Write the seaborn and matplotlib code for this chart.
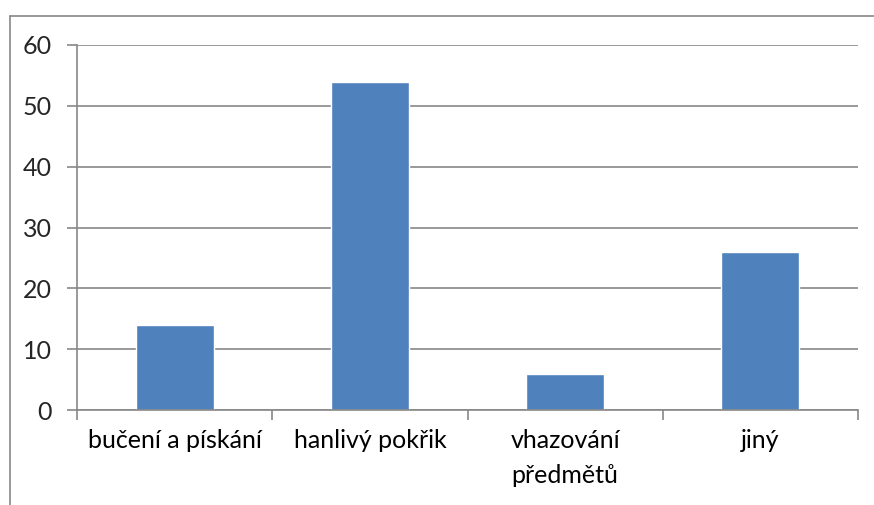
import matplotlib
matplotlib.use("Agg")
import matplotlib.pyplot as plt
import seaborn as sns
import pandas as pd
from matplotlib.lines import Line2D

categories = ["bučení a pískání", "hanlivý pokřik", "vhazování\npředmětů", "jiný"]
values = [14, 54, 6, 26]
yticks = [0, 10, 20, 30, 40, 50, 60]

sns.set_style("white")
plt.rcParams['font.family'] = ['Lato', 'DejaVu Sans']

df = pd.DataFrame({"cat": categories, "val": values})

fig = plt.figure(figsize=(8.74, 5.05), dpi=100)
ax = fig.add_axes([77/874, 1-410/505, (858-77)/874, (410-45)/505])

sns.barplot(data=df, x="cat", y="val", color="#4F81BD", width=0.4, ax=ax, saturation=1)

grey = "#878787"
ax.set_xlim(-0.5, len(categories)-0.5)
ax.set_ylim(0, 60)
ax.set_yticks(yticks)
ax.yaxis.grid(True, color=grey, linewidth=1.2)
ax.set_axisbelow(True)
for s in ["top", "right"]:
    ax.spines[s].set_visible(False)
for s in ["left", "bottom"]:
    ax.spines[s].set_color(grey)
    ax.spines[s].set_linewidth(1.2)

ax.set_xlabel("")
ax.set_ylabel("")
ax.tick_params(axis="x", which="major", length=0, pad=14, labelsize=18, colors="black")
ax.set_xticks([i - 0.5 for i in range(len(categories)+1)], minor=True)
ax.tick_params(axis="x", which="minor", length=7, width=1.2, color=grey, bottom=True)
ax.tick_params(axis="y", length=7, width=1.2, color=grey, left=True, labelsize=18, pad=11)
for t in ax.get_xticklabels():
    t.set_va("top")
    t.set_linespacing(1.6)

# outer chart border
fig.add_artist(Line2D([9.5/874, 9.5/874], [0, 1-15.5/505], transform=fig.transFigure, color=grey, linewidth=1.2))
fig.add_artist(Line2D([9.5/874, 1], [1-15.5/505, 1-15.5/505], transform=fig.transFigure, color=grey, linewidth=1.2))

fig.savefig("out.png", dpi=100)
